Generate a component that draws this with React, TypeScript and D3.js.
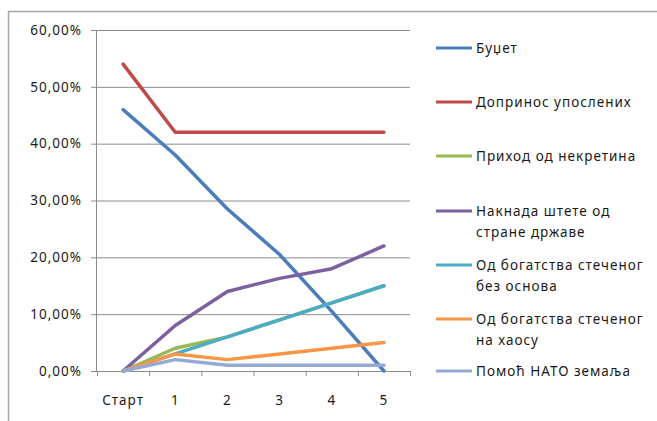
import * as d3 from 'd3';

const categories = ['Старт', '1', '2', '3', '4', '5'];
const yTicks = [0, 0.1, 0.2, 0.3, 0.4, 0.5, 0.6];

const seriesNames = [
  ['Буџет'],
  ['Допринос упослених'],
  ['Приход од некретина'],
  ['Накнада штете од', 'стране државе'],
  ['Од богатства стеченог', 'без основа'],
  ['Од богатства стеченог', 'на хаосу'],
  ['Помоћ НАТО земаља'],
];
const seriesColors = ['#4A7EBB', '#BE4B48', '#98B954', '#7D60A0', '#4BACC6', '#F79646', '#93AAD4'];

const budzet = [0.46, 0.38, 0.285, 0.205, 0.105, 0];
const doprinos = [0.54, 0.42, 0.42, 0.42, 0.42, 0.42];
const nekretine = [0, 0.04, 0.06, 0.09, 0.12, 0.15];
const naknada = [0, 0.08, 0.14, 0.163, 0.18, 0.22];
const bezOsnova = [0, 0.03, 0.06, 0.09, 0.12, 0.15];
const naHaosu = [0, 0.03, 0.02, 0.03, 0.04, 0.05];
const nato = [0, 0.02, 0.01, 0.01, 0.01, 0.01];

const seriesValues = [budzet, doprinos, nekretine, naknada, bezOsnova, naHaosu, nato];

const legendY = [48, 102, 156, 211, 265, 319, 371];

const W = 657;
const H = 421;
const FONT = '"Noto Sans", sans-serif';
const FS = 13.5;
const LS = 1;

export default function App() {
  const x = d3.scaleBand<string>().domain(categories).range([97, 410]).padding(0);
  const y = d3.scaleLinear().domain([0, 0.6]).range([371, 30]);
  const cx = (c: string) => (x(c) ?? 0) + x.bandwidth() / 2;
  const fmt = (v: number) => (v * 100).toFixed(2).replace('.', ',') + '%';

  const line = d3
    .line<number>()
    .x((_, i) => cx(categories[i]))
    .y((d) => y(d));

  const bounds = [...categories.map((c) => x(c) ?? 0), 410];

  return (
    <svg
      width={W}
      height={H}
      style={{ position: 'absolute', left: 0, top: 0, background: '#fff' }}
      fontFamily={FONT}
      fontSize={FS}
      letterSpacing={LS}
    >
      {/* outer chart frame */}
      <path d={`M8.5,${H} V11.5 H${W}`} fill="none" stroke="#A6A6A6" strokeWidth={1.5} />

      {/* gridlines + y ticks */}
      {yTicks.map((t) => (
        <g key={t}>
          <line x1={91} x2={410} y1={y(t) + 0.5} y2={y(t) + 0.5} stroke="#8C8C8C" strokeWidth={1} />
          <text x={82} y={y(t)} dy="0.35em" textAnchor="end" fill="#1a1a1a">
            {fmt(t)}
          </text>
        </g>
      ))}

      {/* y axis */}
      <line x1={96.5} x2={96.5} y1={30} y2={371} stroke="#8C8C8C" />

      {/* x ticks */}
      {bounds.map((b, i) => (
        <line key={i} x1={b + 0.5} x2={b + 0.5} y1={371} y2={376} stroke="#8C8C8C" />
      ))}
      {categories.map((c) => (
        <text key={c} x={cx(c)} y={400} dy="0.35em" textAnchor="middle" fill="#1a1a1a">
          {c}
        </text>
      ))}

      {/* series */}
      {seriesValues.map((vals, i) => (
        <path
          key={i}
          d={line(vals) ?? ''}
          fill="none"
          stroke={seriesColors[i]}
          strokeWidth={3.5}
          strokeLinejoin="round"
          strokeLinecap="round"
        />
      ))}

      {/* legend */}
      {seriesNames.map((lines, i) => (
        <g key={i}>
          <line x1={436} x2={472} y1={legendY[i]} y2={legendY[i]} stroke={seriesColors[i]} strokeWidth={3} />
          {lines.map((t, j) => (
            <text key={j} x={476} y={legendY[i] + j * 21} dy="0.35em" fill="#1a1a1a">
              {t}
            </text>
          ))}
        </g>
      ))}
    </svg>
  );
}
